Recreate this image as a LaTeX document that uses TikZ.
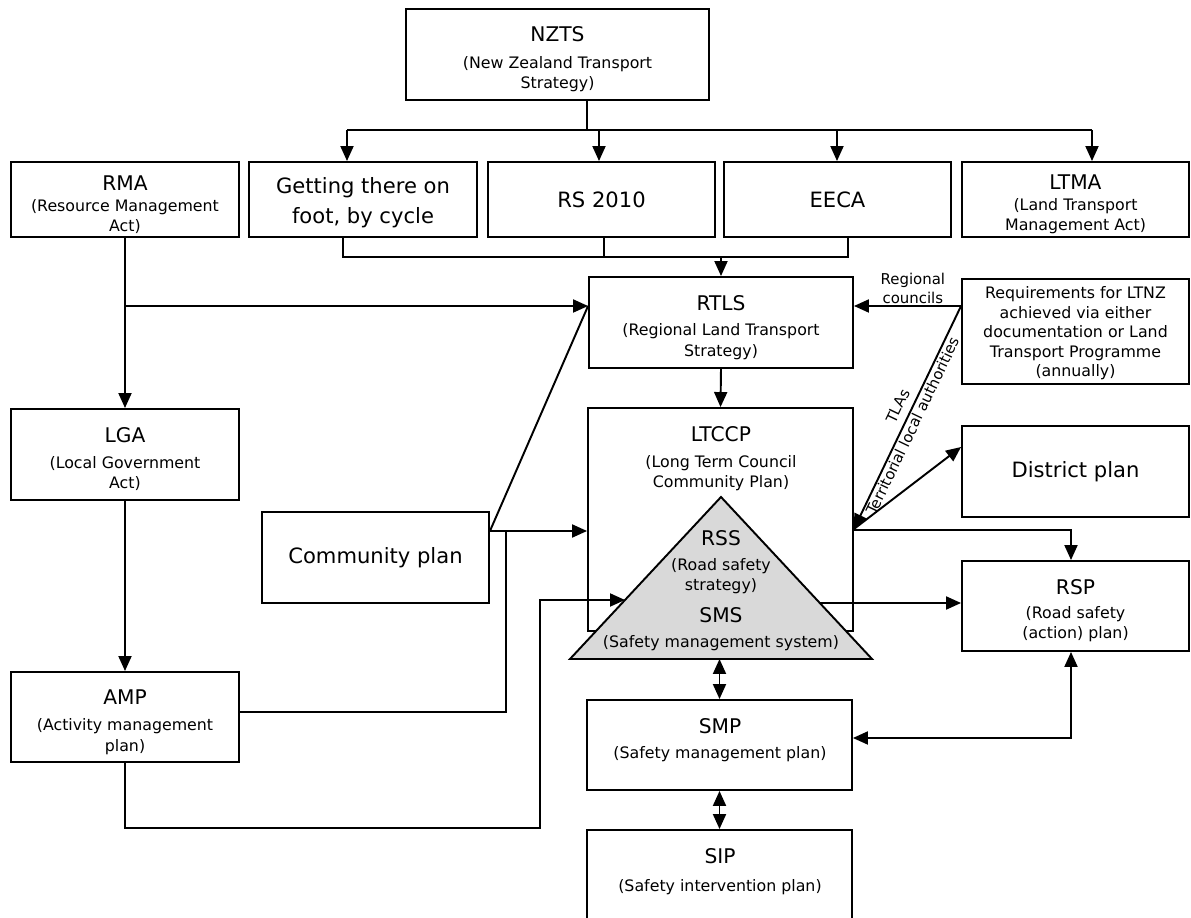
\documentclass[tikz,border=0pt]{standalone}
\usepackage{fontspec}
\setmainfont{DejaVu Sans}
\usetikzlibrary{arrows.meta}

\newcommand{\hd}{\fontsize{11.5}{11.6}\selectfont}
\newcommand{\bhd}{\hd\rule{0pt}{14pt}}

\begin{document}
\begin{tikzpicture}[x=0.02cm, y=-0.02cm]

		\tikzstyle{line} = [line width=1.1pt]
		\tikzstyle{edge} = [line width=1.1pt, -{Triangle[length=3mm, width=2.6mm]}]
		\tikzstyle{edge_back} = [line width=1.1pt, {Triangle[length=3mm, width=2.6mm]}-]
		\tikzstyle{edge_both} = [line width=1.1pt, {Triangle[length=3mm, width=2.6mm]}-{Triangle[length=3mm, width=2.6mm]}]
		\tikzstyle{box} = [rectangle, draw=black, line width=1.1pt, align=center, inner sep=0pt, font=\fontsize{9}{11.6}\selectfont]
		\tikzstyle{bigbox} = [box, font=\fontsize{12}{17}\selectfont]
		\tikzstyle{txt} = [align=center, inner sep=0pt, font=\fontsize{9}{11.6}\selectfont]
		\tikzstyle{small} = [align=center, inner sep=1pt, font=\fontsize{8.5}{10.8}\selectfont]

		\useasboundingbox (0,0) rectangle (1191,918);

		\node[box, minimum width=6.06cm, minimum height=1.82cm](NZTS) at (557.5,54.5){{\bhd NZTS}\\[3.7pt](New Zealand Transport\\Strategy)};

		\node[box, minimum width=4.56cm, minimum height=1.5cm](RMA) at (125,199.5){{\bhd RMA}\\[0.3pt](Resource Management\\Act)};
		\node[bigbox, minimum width=4.56cm, minimum height=1.5cm](GTF) at (363,199.5){\rule{0pt}{12.5pt}Getting there on\\foot, by cycle};
		\node[bigbox, minimum width=4.54cm, minimum height=1.5cm](RS) at (601.5,199.5){RS 2010};
		\node[bigbox, minimum width=4.54cm, minimum height=1.5cm](EECA) at (837.5,199.5){EECA};
		\node[box, minimum width=4.54cm, minimum height=1.5cm](LTMA) at (1075.5,199.5){{\bhd LTMA}\\[0.3pt](Land Transport\\Management Act)};

		\node[box, minimum width=5.28cm, minimum height=1.82cm](RTLS) at (721,322.5){{\bhd RTLS}\\[3.1pt](Regional Land Transport\\Strategy)};
		\node[box, minimum width=4.54cm, minimum height=2.1cm, font=\fontsize{9}{11.1}\selectfont](REQ) at (1075.5,331.5){\rule{0pt}{9.2pt}Requirements for LTNZ\\achieved via either\\documentation or Land\\Transport Programme\\(annually)};

		\node[box, minimum width=4.56cm, minimum height=1.82cm](LGA) at (125,454.5){{\bhd LGA}\\[3.1pt](Local Government\\Act)};
		\node[bigbox, minimum width=4.54cm, minimum height=1.82cm](CP) at (375.5,557.5){Community plan};
		\node[box, minimum width=5.3cm, minimum height=4.46cm](LTCCP) at (720.5,519.5){};
		\node[txt, anchor=north](LTCCP-t) at (721,426){{\hd LTCCP}\\[3.2pt](Long Term Council\\Community Plan)};
		\node[bigbox, minimum width=4.54cm, minimum height=1.82cm](DP) at (1075.5,471.5){District plan};
		\node[box, minimum width=4.54cm, minimum height=1.8cm](RSP) at (1075.5,606){{\bhd RSP}\\[2pt](Road safety\\(action) plan)};

		% triangle inside the LTCCP
		\coordinate (tri-top) at (721,497);
		\coordinate (tri-bl) at (570,659);
		\coordinate (tri-br) at (872,659);
		\coordinate (tri-l) at (625,600);
		\coordinate (tri-r) at (820,603);
		\filldraw[fill=gray!30, draw=black, line width=1.1pt] (tri-top) -- (tri-bl) -- (tri-br) -- cycle;
		\node[txt, anchor=north](RSS) at (721,530){{\hd RSS}\\[2.6pt](Road safety\\strategy)\\[6.3pt]{\hd SMS}\\[3pt](Safety management system)};

		\node[box, minimum width=4.56cm, minimum height=1.8cm](AMP) at (125,717){{\bhd AMP}\\[3.7pt](Activity management\\plan)};
		\node[box, minimum width=5.3cm, minimum height=1.8cm](SMP) at (719.5,745){};
		\node[txt, anchor=north](SMP-t) at (720,718){{\hd SMP}\\[2.6pt](Safety management plan)};
		\node[box, minimum width=5.3cm, minimum height=2cm](SIP) at (719.5,880){};
		\node[txt, anchor=north](SIP-t) at (720,848){{\hd SIP}\\[4.3pt](Safety intervention plan)};

		% NZTS to the second row
		\draw[line] (587,0 |- NZTS.south) -- (587,130);
		\draw[line] (347,130) -- (1092,130);
		\draw[edge] (347,130) -- (347,0 |- GTF.north);
		\draw[edge] (599,130) -- (599,0 |- RS.north);
		\draw[edge] (837,130) -- (837,0 |- EECA.north);
		\draw[edge] (1092,130) -- (1092,0 |- LTMA.north);

		% second row to RTLS
		\draw[line] (343,0 |- GTF.south) |- (848,257) -- (848,0 |- EECA.south);
		\draw[line] (604,0 |- RS.south) -- (604,257);
		\draw[edge] (RTLS.north |- 0,257) -- (RTLS.north);

		\draw[edge] (RMA.south) -- (LGA.north);
		\draw[edge] (RMA.south |- 0,306) -- (RTLS.west |- 0,306);
		\draw[edge] (LGA.south) -- (AMP.north);

		\draw[edge] (CP.east |- 0,531) -- (LTCCP.west |- 0,531);
		\draw[line] (CP.east |- 0,531) -- (RTLS.west |- 0,306);
		\draw[line] (AMP.east |- 0,712) -| (506,531);
		\draw[edge] (AMP.south) |- (540,828) |- (tri-l);

		\draw[edge] (RTLS.south) -- (LTCCP.north);

		\coordinate (tla) at (LTCCP.east |- 0,529);
		\draw[edge] (REQ.west |- 0,306) -- node[small, above, pos=.45]{Regional\\councils} (RTLS.east |- 0,306);
		\draw[edge_back] (tla) -- node[small, sloped, above=3pt, pos=.525]{TLAs} node[small, sloped, below, pos=.48]{Territorial local authorities} (REQ.west |- 0,306);
		\draw[edge] (tla) -- (DP.west |- 0,447);
		\draw[edge] (LTCCP.east |- 0,530) -| (1071,0 |- RSP.north);
		\draw[edge] (tri-r) -- (RSP.west |- 0,603);

		\draw[edge_both] (1071,0 |- RSP.south) |- (SMP.east |- 0,738);
		\draw[edge_both] (SMP.north |- tri-bl) -- (SMP.north);
		\draw[edge_both] (SMP.south) -- (SIP.north);

\end{tikzpicture}
\end{document}
